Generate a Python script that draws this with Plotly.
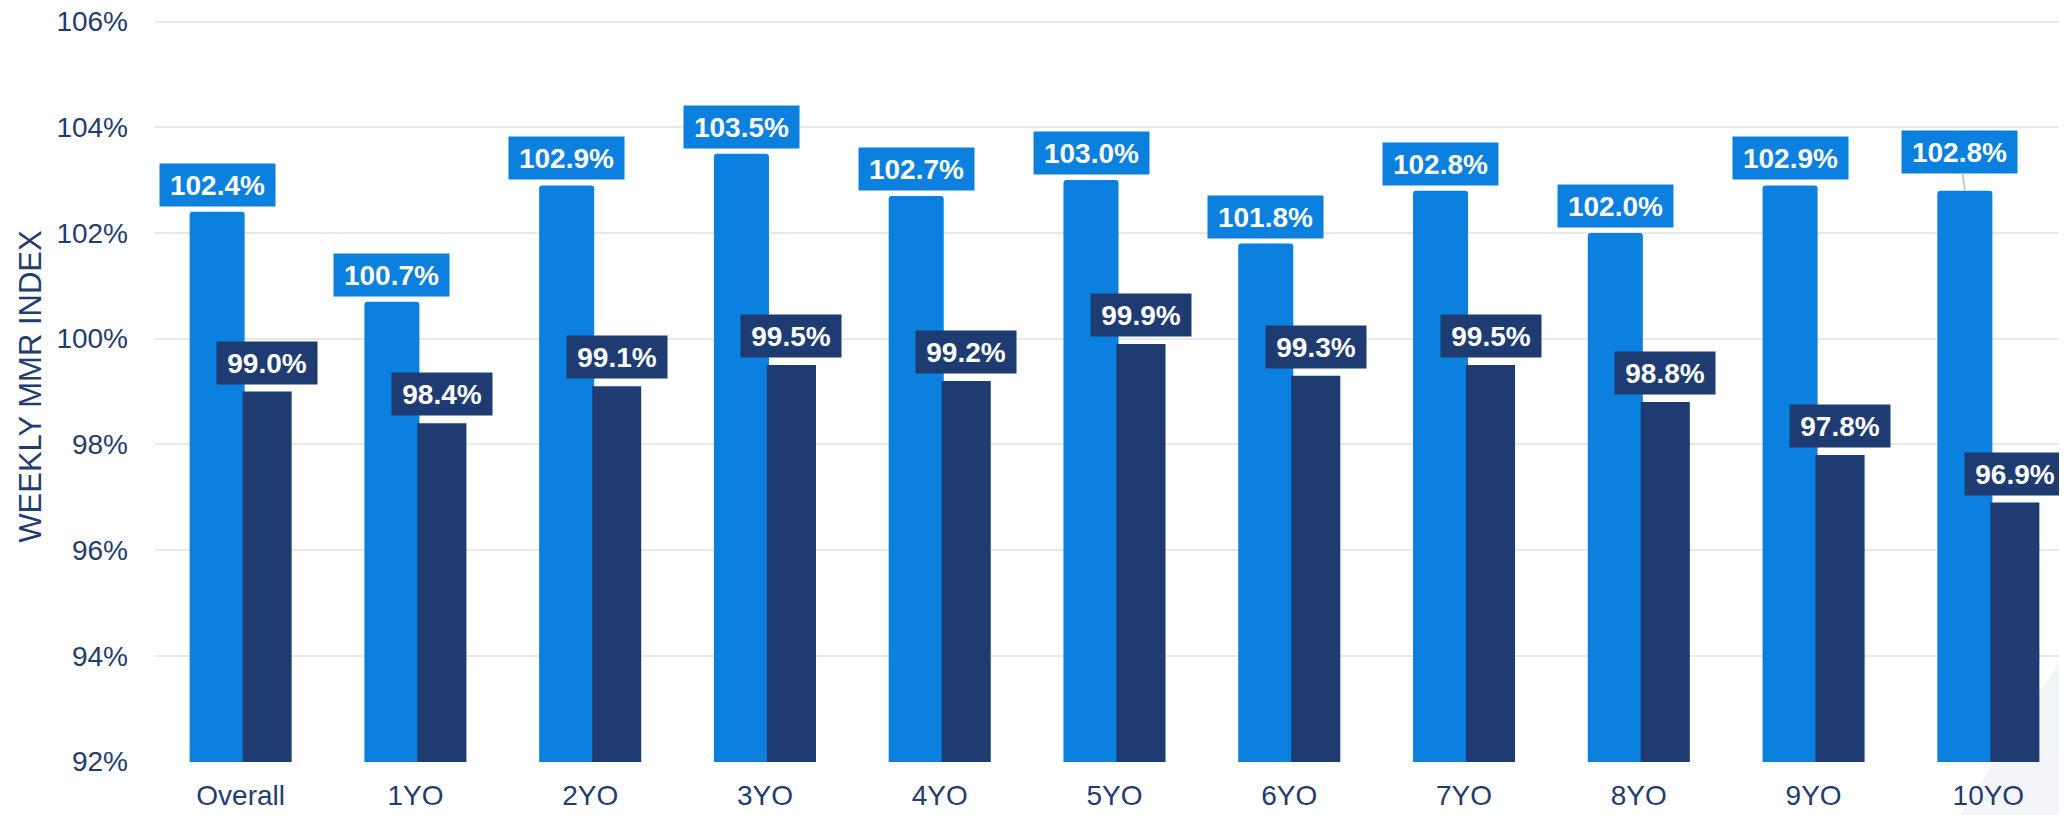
import plotly.graph_objects as go

categories = ["Overall", "1YO", "2YO", "3YO", "4YO", "5YO", "6YO", "7YO", "8YO", "9YO", "10YO"]
series_light = [102.4, 100.7, 102.9, 103.5, 102.7, 103.0, 101.8, 102.8, 102.0, 102.9, 102.8]
series_dark = [99.0, 98.4, 99.1, 99.5, 99.2, 99.9, 99.3, 99.5, 98.8, 97.8, 96.9]
y_ticks = [92, 94, 96, 98, 100, 102, 104, 106]

LIGHT = "#0B80DF"
DARK = "#1E3C72"
TEXT = "#1F3D6E"
FONT = "Arial, Liberation Sans, sans-serif"

X_RANGE = [-0.49, 10.45]

fig = go.Figure()
fig.add_trace(go.Bar(
    x=categories, y=series_light, name="Light",
    marker=dict(color=LIGHT, cornerradius=3, line=dict(width=0)),
    width=0.315, offset=-0.292,
))
fig.add_trace(go.Bar(
    x=categories, y=series_dark, name="Dark",
    marker=dict(color=DARK, line=dict(width=0)),
    width=0.281, offset=0.011,
))

def box_width(s):
    w = 0
    for ch in s:
        if ch.isdigit():
            w += 15.6
        elif ch == ".":
            w += 7.8
        elif ch == "%":
            w += 24.9
    return round(w + 20)

def paper_x(idx, frac):
    # category index + fractional offset -> paper coordinate
    return (idx + frac - X_RANGE[0]) / (X_RANGE[1] - X_RANGE[0])

label_font = dict(family=FONT, size=28, color="white", weight="bold")
annotations = []
for i, (c, v) in enumerate(zip(categories, series_light)):
    t = f"{v:.1f}%"
    if i == len(categories) - 1:
        # label pushed up with a leader line, as in the original
        annotations.append(dict(
            x=c, y=v, xref="x", yref="y", text=t, showarrow=True,
            arrowhead=0, arrowwidth=1.5, arrowcolor="#BBBBBB",
            ax=-5, ay=-39, xshift=-23.5, standoff=0,
            bgcolor=LIGHT, width=box_width(t), height=42, borderpad=0,
            font=label_font,
        ))
    else:
        annotations.append(dict(
            x=c, y=v, xref="x", yref="y", text=t, showarrow=False,
            xanchor="center", yanchor="bottom", xshift=-23.5, yshift=5,
            bgcolor=LIGHT, width=box_width(t), height=42, borderpad=0,
            font=label_font,
        ))
for i, (c, v) in enumerate(zip(categories, series_dark)):
    t = f"{v:.1f}%"
    annotations.append(dict(
        x=paper_x(i, 0.1515), y=v, xref="paper", yref="y", text=t, showarrow=False,
        xanchor="center", yanchor="bottom", yshift=7,
        bgcolor=DARK, width=box_width(t), height=42, borderpad=0,
        font=label_font,
    ))

fig.update_layout(
    width=2059, height=807,
    margin=dict(l=147, r=0, t=3, b=53),
    paper_bgcolor="white", plot_bgcolor="rgba(0,0,0,0)",
    barmode="overlay", showlegend=False,
    font=dict(family=FONT, color=TEXT),
    annotations=annotations,
    shapes=[dict(
        type="path", xref="paper", yref="paper", layer="below",
        path="M 0.944 -0.0706 L 1.0 -0.0706 L 1.0 0.149 Z",
        fillcolor="#F4F5F9", line=dict(width=0),
    )],
)
fig.update_xaxes(
    range=X_RANGE, showgrid=False, showline=False, zeroline=False,
    ticks="", ticklabelstandoff=14, tickfont=dict(size=28, color=TEXT, family=FONT),
    fixedrange=True,
)
fig.update_yaxes(
    range=[91.99, 106.2], tickvals=y_ticks, ticktext=[f"{t}%" for t in y_ticks],
    showgrid=True, gridcolor="#E8E8E8", gridwidth=1.5, zeroline=False,
    showline=False, ticks="", ticklabelstandoff=26, ticklabeloverflow="allow",
    tickfont=dict(size=28, color=TEXT, family=FONT),
    title=dict(text="WEEKLY MMR INDEX", font=dict(size=31, color=TEXT, family=FONT), standoff=5),
    automargin=False, fixedrange=True,
)

fig.write_html("out.html")
